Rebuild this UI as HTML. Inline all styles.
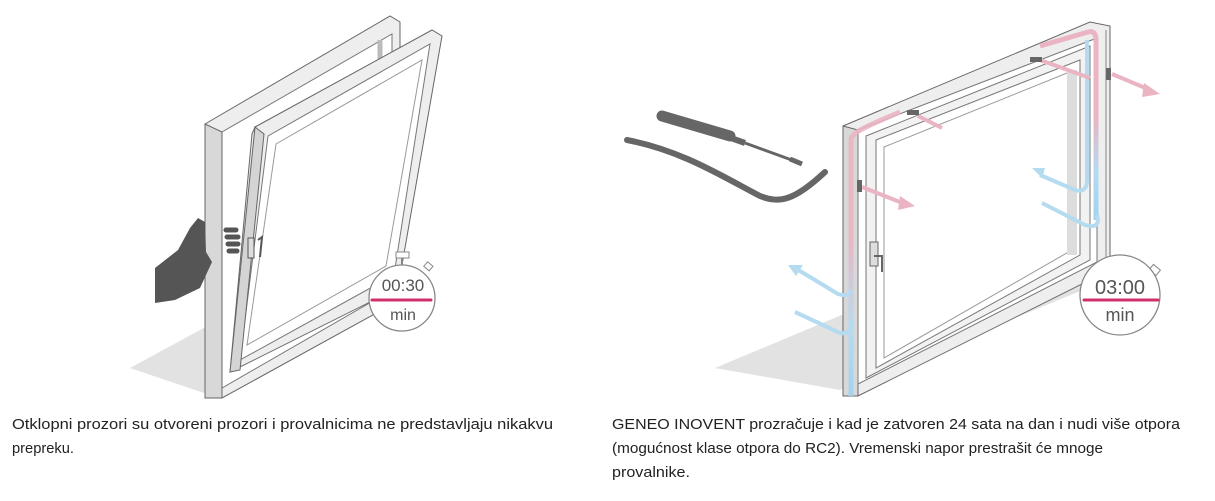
<!DOCTYPE html>
<html><head><meta charset="utf-8"><style>
html,body{margin:0;padding:0;background:#fff;width:1215px;height:501px;overflow:hidden}
svg{display:block}
text{font-family:"Liberation Sans",sans-serif;}
</style></head><body>
<svg width="1215" height="501" viewBox="0 0 1215 501" xmlns="http://www.w3.org/2000/svg">
<defs>
<linearGradient id="pb" x1="0" y1="0" x2="0" y2="1">
<stop offset="0" stop-color="#eab4c2"/><stop offset="0.45" stop-color="#eab4c2"/><stop offset="0.75" stop-color="#b4dbf0"/><stop offset="1" stop-color="#9fd2ef"/>
</linearGradient>
</defs>
<!-- LEFT ILLUSTRATION -->
<polygon points="130,368 340,254 400,282 210,395" fill="#e2e2e2"/>
<polygon points="205,124 390,16 400,22 400,300 222,398 205,398" fill="#eeeeee" stroke="#666" stroke-width="1"/>
<polygon points="222,132 392,34 392,290 222,388" fill="#fff" stroke="#777" stroke-width="1"/>
<polygon points="205,124 222,132 222,398 205,398" fill="#d8d8d8" stroke="#666" stroke-width="1"/>
<line x1="380" y1="40" x2="380" y2="290" stroke="#bbb" stroke-width="5"/>
<!-- sash -->
<polygon points="255,127 432,30 442,36 398,288 230,372 252,134" fill="#eeeeee" stroke="#666" stroke-width="1"/>
<polygon points="268,136 430,44 394,275 240,360" fill="#fff" stroke="#777" stroke-width="1"/>
<polygon points="276,144 422,60 386,266 247,345" fill="none" stroke="#999" stroke-width="1"/>
<polygon points="255,127 264,134 240,370 230,372" fill="#d4d4d4" stroke="#666" stroke-width="1"/>
<!-- hand -->
<path d="M155,268 L178,250 L190,228 L198,218 L205,222 L206,252 L212,262 L200,288 L175,300 L155,303 Z" fill="#555"/>
<path d="M226,230 h10 M227,237 h11 M228,244 h10 M229,251 h8" stroke="#555" stroke-width="5" stroke-linecap="round"/>
<rect x="248" y="238" width="6" height="20" fill="#ddd" stroke="#555"/>
<path d="M258,240 l4,-3 l-2,20" fill="none" stroke="#555" stroke-width="2"/>
<!-- stopwatch left -->
<line x1="402" y1="255" x2="402" y2="266" stroke="#888" stroke-width="2"/>
<rect x="396" y="252" width="13" height="6" fill="#fff" stroke="#888"/>
<rect x="425" y="263" width="7" height="6" fill="#fff" stroke="#888" transform="rotate(40 428 266)"/>
<circle cx="402" cy="298" r="33" fill="#fff" stroke="#888" stroke-width="1.3"/>
<text x="403" y="291" font-size="17" fill="#555" text-anchor="middle">00:30</text>
<line x1="372" y1="300" x2="431" y2="300" stroke="#d0306a" stroke-width="3" stroke-linecap="round"/>
<text x="403" y="320" font-size="16" fill="#555" text-anchor="middle">min</text>

<!-- RIGHT ILLUSTRATION -->
<polygon points="715,368 985,255 1095,285 840,390" fill="#e2e2e2"/>
<line x1="662" y1="116" x2="730" y2="136" stroke="#666" stroke-width="11" stroke-linecap="round"/>
<line x1="728" y1="137" x2="745" y2="143" stroke="#666" stroke-width="6"/>
<line x1="745" y1="143" x2="800" y2="163" stroke="#666" stroke-width="3"/>
<line x1="790" y1="159" x2="802" y2="164" stroke="#666" stroke-width="5"/>
<path d="M627,140 C680,150 720,175 760,196 C780,204 795,200 825,172" fill="none" stroke="#666" stroke-width="6" stroke-linecap="round"/>
<polygon points="843,126 1090,22 1110,26 1110,270 858,396 843,396" fill="#eeeeee" stroke="#666" stroke-width="1"/>
<polygon points="843,126 858,130 858,396 843,396" fill="#d8d8d8" stroke="#666" stroke-width="1"/>
<polygon points="858,130 1097,38 1097,262 858,384" fill="#fff" stroke="#777" stroke-width="1"/>
<polygon points="866,136 1090,46 1090,260 866,378" fill="#f2f2f2" stroke="#777" stroke-width="1"/>
<polygon points="876,140 1080,60 1080,255 876,368" fill="#fff" stroke="#777" stroke-width="1"/>
<polygon points="884,147 1072,71 1072,250 884,358" fill="#fff" stroke="#999" stroke-width="1"/>
<rect x="1067" y="70" width="10" height="185" fill="#ddd"/>
<line x1="1106" y1="30" x2="1106" y2="260" stroke="#888"/>
<rect x="870" y="242" width="8" height="24" fill="#ddd" stroke="#666"/>
<path d="M874,256 h8 v16" fill="none" stroke="#666" stroke-width="2"/>
<path d="M851,396 L851,140 C851,132 870,125 900,112" fill="none" stroke="url(#pb)" stroke-width="5" opacity="0.9"/>
<path d="M1040,46 L1088,32 C1095,30 1096,36 1096,40 L1096,220" fill="none" stroke="url(#pb)" stroke-width="5"/>
<path d="M1087,40 L1087,180 C1087,190 1082,192 1075,190 L1040,175" fill="none" stroke="#b4dbf0" stroke-width="4"/>
<polygon points="1032,168 1045,168 1042,178" fill="#b4dbf0"/>
<path d="M1042,203 L1085,225 C1095,228 1100,225 1097,215" fill="none" stroke="#b4dbf0" stroke-width="4"/>
<path d="M850,290 C850,296 845,296 838,294 L795,268" fill="none" stroke="#b4dbf0" stroke-width="4"/>
<polygon points="788,265 803,265 796,276" fill="#b4dbf0"/>
<path d="M795,312 L838,332 C846,336 852,330 851,320" fill="none" stroke="#b4dbf0" stroke-width="4"/>
<line x1="918" y1="116" x2="942" y2="128" stroke="#eab4c2" stroke-width="4"/>
<line x1="1040" y1="60" x2="1090" y2="78" stroke="#eab4c2" stroke-width="4"/>
<line x1="862" y1="187" x2="905" y2="204" stroke="#eab4c2" stroke-width="4"/>
<polygon points="915,206 900,196 898,210" fill="#eab4c2"/>
<line x1="1112" y1="74" x2="1150" y2="90" stroke="#eab4c2" stroke-width="4"/>
<polygon points="1160,94 1144,83 1142,97" fill="#eab4c2"/>
<rect x="907" y="110" width="12" height="5" fill="#666"/>
<rect x="1030" y="57" width="12" height="5" fill="#666"/>
<rect x="857" y="180" width="5" height="12" fill="#666"/>
<rect x="1106" y="68" width="5" height="12" fill="#666"/>
<rect x="1112" y="256" width="18" height="8" fill="#fff" stroke="#888"/>
<rect x="1150" y="266" width="9" height="7" fill="#fff" stroke="#888" transform="rotate(40 1154 270)"/>
<circle cx="1120" cy="295" r="40" fill="#fff" stroke="#888" stroke-width="1.3"/>
<text x="1120" y="294" font-size="20" fill="#555" text-anchor="middle">03:00</text>
<line x1="1084" y1="300" x2="1158" y2="300" stroke="#d0306a" stroke-width="3" stroke-linecap="round"/>
<text x="1120" y="321" font-size="18" fill="#555" text-anchor="middle">min</text>

<g font-size="15" fill="#222">
<text x="12" y="429" textLength="541" lengthAdjust="spacingAndGlyphs">Otklopni prozori su otvoreni prozori i provalnicima ne predstavljaju nikakvu</text>
<text x="12" y="453" textLength="62" lengthAdjust="spacingAndGlyphs">prepreku.</text>
<text x="612" y="429" textLength="568" lengthAdjust="spacingAndGlyphs">GENEO INOVENT prozračuje i kad je zatvoren 24 sata na dan i nudi više otpora</text>
<text x="612" y="453" textLength="491" lengthAdjust="spacingAndGlyphs">(mogućnost klase otpora do RC2). Vremenski napor prestrašit će mnoge</text>
<text x="612" y="477" textLength="78" lengthAdjust="spacingAndGlyphs">provalnike.</text>
</g>
</svg>
</body></html>
